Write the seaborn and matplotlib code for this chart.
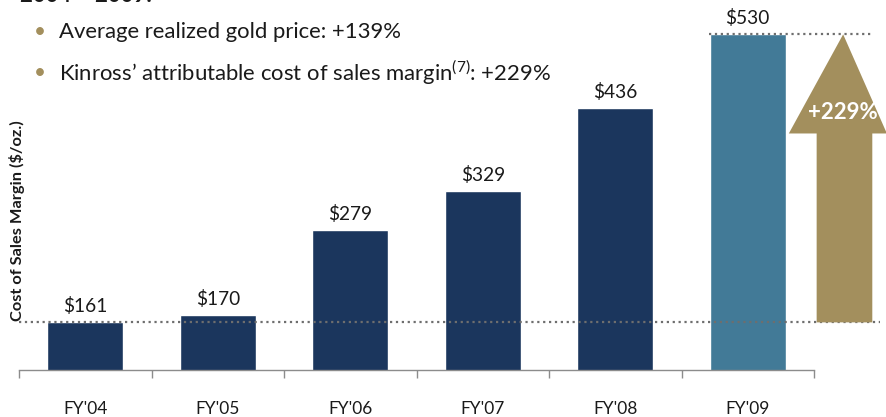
import matplotlib
matplotlib.use("Agg")
import matplotlib.pyplot as plt
import seaborn as sns
from matplotlib.patches import Polygon

# data
years = ["FY'04", "FY'05", "FY'06", "FY'07", "FY'08", "FY'09"]
margins = [161, 170, 279, 329, 436, 530]
bar_colors = ["#1B365D", "#1B365D", "#1B365D", "#1B365D", "#1B365D", "#427A97"]
bullets = ["Average realized gold price: +139%",
           r"Kinross’ attributable cost of sales margin$^{\mathregular{(7)}}$: +229%"]
growth_label = "+229%"

sns.set_theme(style="white")
plt.rcParams["font.family"] = ["Lato", "DejaVu Sans"]
plt.rcParams["mathtext.fontset"] = "custom"
plt.rcParams["mathtext.rm"] = "Lato"

gold = "#A38F5D"
dot_grey = "#6E6E6E"

fig = plt.figure(figsize=(8.86, 4.17), dpi=100)
ax = fig.add_axes([19 / 886, 47 / 417, 795 / 886, 370 / 417])

sns.barplot(x=years, y=margins, hue=years, palette=bar_colors, legend=False,
            width=0.57, saturation=1, ax=ax)
ax.set_xlim(-0.5, 5.5)
ax.set_ylim(100, 574)

# value labels
for i, v in enumerate(margins):
    ax.annotate(f"${v}", (i, v), xytext=(0, 5), textcoords="offset points",
                ha="center", va="bottom", fontsize=13.8, color="#1a1a1a")

# dotted reference lines at start and end values
ax.plot([-0.5, 6.0], [margins[0], margins[0]], ls=":", lw=1.6, color=dot_grey,
        clip_on=False, zorder=1)
ax.plot([4.71, 5.93], [margins[-1], margins[-1]], ls=":", lw=1.6, color=dot_grey,
        clip_on=False, zorder=1)

# growth arrow
head_base = 403
arrow = Polygon([(5.52, margins[0]), (5.94, margins[0]), (5.94, head_base),
                 (6.05, head_base), (5.72, margins[-1]), (5.31, head_base),
                 (5.52, head_base)],
                closed=True, facecolor=gold, edgecolor="none", clip_on=False, zorder=3)
ax.add_patch(arrow)
ax.text(5.72, 430, growth_label, ha="center", va="center", fontsize=16,
        fontweight="bold", color="white", zorder=4, clip_on=False)

# axes styling
for s in ["top", "right", "left"]:
    ax.spines[s].set_visible(False)
ax.spines["bottom"].set_color("#8C8C8C")
ax.spines["bottom"].set_linewidth(1)
ax.set_yticks([])
ax.set_xticks(range(len(years)))
ax.set_xticklabels(years, fontsize=12.5, color="#1a1a1a")
ax.set_xticks([i - 0.5 for i in range(len(years) + 1)], minor=True)
ax.tick_params(axis="x", which="major", length=0, pad=22)
ax.tick_params(axis="x", which="minor", length=6, width=1, color="#8C8C8C",
               direction="out", bottom=True)
ax.set_xlabel("")
ax.set_ylabel("")

fig.text(17 / 886, 1 - 221 / 417, "Cost of Sales Margin ($/oz.)", rotation=90,
         ha="center", va="center", fontsize=11.8, fontweight="bold", color="#1a1a1a")

# header and bullet points
fig.text(20 / 886, 1 + 5 / 417, "2004 – 2009:", ha="left", va="center",
         fontsize=16, fontweight="bold", color="#1a1a1a")
for j, txt in enumerate(bullets):
    y = 1 - (32 + 41 * j) / 417
    fig.text(40 / 886, y, "•", ha="center", va="center", fontsize=15, color=gold)
    fig.text(59 / 886, y, txt, ha="left", va="center", fontsize=15.9, color="#1a1a1a")

fig.savefig("out.png", dpi=100)
